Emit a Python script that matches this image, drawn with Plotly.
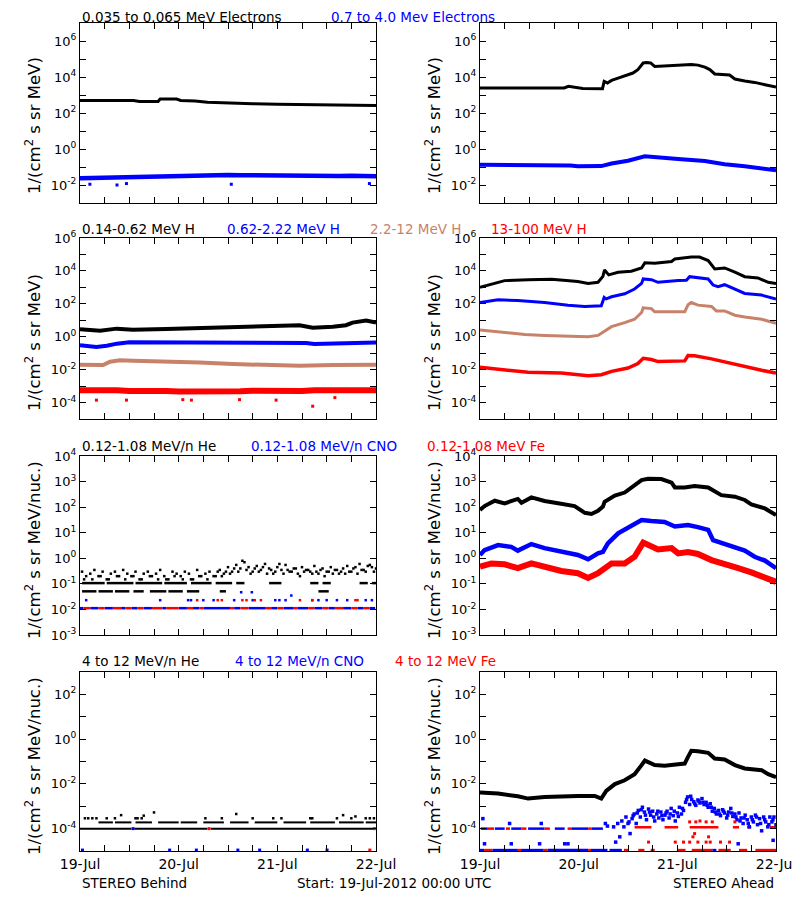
import plotly.graph_objects as go

# ---------------- colours ----------------
BLACK = "#000000"
BLUE = "#0000FF"
BROWN = "rgb(200,130,105)"
RED = "#FF0000"
FONT = "DejaVu Sans"

# ---------------- x axis (hours since 19-Jul-2012 00:00 UTC) ----------------
X_TICKS = [0, 6, 12, 18, 24, 30, 36, 42, 48, 54, 60, 66, 72]
X_TICK_TEXT = ["19-Jul", "", "", "", "20-Jul", "", "", "", "21-Jul", "", "", "", "22-Jul"]

# ---------------- y axis ticks per row ----------------
Y1_TICKS = [1e-3, 1e-2, 1e-1, 1e0, 1e1, 1e2, 1e3, 1e4, 1e5, 1e6, 1e7]
Y1_TEXT = ["", "10<sup>-2</sup>", "", "10<sup>0</sup>", "", "10<sup>2</sup>", "", "10<sup>4</sup>", "", "10<sup>6</sup>", ""]
Y2_TICKS = [1e-5, 1e-4, 1e-3, 1e-2, 1e-1, 1e0, 1e1, 1e2, 1e3, 1e4, 1e5, 1e6]
Y2_TEXT = ["", "10<sup>-4</sup>", "", "10<sup>-2</sup>", "", "10<sup>0</sup>", "", "10<sup>2</sup>", "", "10<sup>4</sup>", "", "10<sup>6</sup>"]
Y3_TICKS = [1e-3, 1e-2, 1e-1, 1e0, 1e1, 1e2, 1e3, 1e4]
Y3_TEXT = ["10<sup>-3</sup>", "10<sup>-2</sup>", "10<sup>-1</sup>", "10<sup>0</sup>", "10<sup>1</sup>", "10<sup>2</sup>", "10<sup>3</sup>", "10<sup>4</sup>"]
Y4_TICKS = [1e-5, 1e-4, 1e-3, 1e-2, 1e-1, 1e0, 1e1, 1e2, 1e3]
Y4_TEXT = ["", "10<sup>-4</sup>", "", "10<sup>-2</sup>", "", "10<sup>0</sup>", "", "10<sup>2</sup>", ""]

# ================= ROW 1 : electrons =================
# Behind 0.035-0.065 MeV
e_lo_b_t = [0, 13, 14.5, 19, 19.5, 23.5, 24.5, 28, 31, 36, 42, 48, 54, 60, 66, 72]
e_lo_b_v = [490, 490, 440, 440, 600, 600, 500, 470, 400, 360, 330, 310, 290, 275, 265, 257]
# Behind 0.7-4.0 MeV
e_hi_b_t = [0, 3, 6, 9, 12, 15, 18, 21, 24, 27, 30, 33, 36, 39, 42, 45, 48, 51, 54, 57, 60, 63, 66, 69, 72]
e_hi_b_v = [0.024, 0.025, 0.026, 0.025, 0.027, 0.028, 0.030, 0.031, 0.033, 0.034, 0.035, 0.034, 0.036,
            0.035, 0.034, 0.034, 0.033, 0.033, 0.034, 0.034, 0.033, 0.032, 0.033, 0.032, 0.031]
e_hi_b_out_t = [2.4, 9, 11.3, 36.8, 70.4]
e_hi_b_out_v = [0.011, 0.010, 0.012, 0.011, 0.012]
# Ahead 0.035-0.065 MeV
e_lo_a_t = [0, 10, 10.5, 20.5, 21.5, 24, 25, 29.8, 30.2, 31, 32, 33.6, 35.2, 37.2, 38.4, 39.7, 40.5, 41.5,
            42.5, 46.6, 48.5, 51.4, 53, 54.7, 55.9, 57.1, 60.7, 62, 64.4, 66.8, 69.3, 72]
e_lo_a_v = [2450, 2450, 2340, 2450, 3020, 2630, 2290, 2240, 5750, 4680, 6460, 8710, 11700, 16600, 25700,
            60300, 64600, 60300, 38900, 43700, 50100, 50100, 45700, 35500, 25700, 14800, 12900, 7760,
            6030, 5010, 3720, 2750]
# Ahead 0.7-4.0 MeV
e_hi_a_t = [0, 8, 15.7, 22, 23.8, 27, 29.5, 32, 36, 40.1, 43.3, 48.2, 54.7, 59.5, 64.4, 69.3, 72]
e_hi_a_v = [0.135, 0.132, 0.123, 0.120, 0.110, 0.105, 0.112, 0.155, 0.224, 0.389, 0.331, 0.275, 0.214,
            0.141, 0.110, 0.078, 0.065]

# ================= ROW 2 : protons =================
h1_b_t = [0, 4.9, 8.9, 12.9, 21, 29.1, 37.2, 45.3, 53.4, 55, 56.6, 61.5, 64.7, 66.3, 69.6, 72]
h1_b_v = [2.8, 2.3, 3.1, 2.7, 2.95, 3.4, 3.7, 4.6, 5.0, 4.2, 3.5, 4.0, 5.0, 7.2, 9.5, 7.2]
h2_b_t = [0, 4, 6.5, 9, 12, 20, 30, 40, 50, 55, 57, 62, 67, 72]
h2_b_v = [0.30, 0.24, 0.28, 0.38, 0.46, 0.46, 0.47, 0.47, 0.46, 0.42, 0.36, 0.38, 0.42, 0.44]
h3_b_t = [0, 5.6, 7.3, 9.7, 12.9, 21, 29.1, 37.2, 45.3, 53.4, 61.5, 72]
h3_b_v = [0.020, 0.019, 0.030, 0.037, 0.035, 0.032, 0.027, 0.022, 0.019, 0.017, 0.019, 0.020]
h4_b_t = [0, 3, 6, 9, 12, 15, 18, 21, 24, 27, 30, 33, 36, 39, 42, 45, 48, 51, 54, 57, 60, 63, 66, 69, 72]
h4_b_v = [5.6e-4, 5.8e-4, 5.2e-4, 5.5e-4, 5.0e-4, 5.3e-4, 4.8e-4, 5.0e-4, 4.7e-4, 4.6e-4, 4.5e-4, 4.8e-4,
          5.0e-4, 4.9e-4, 5.2e-4, 5.0e-4, 5.3e-4, 5.4e-4, 5.1e-4, 5.5e-4, 5.6e-4, 5.3e-4, 5.6e-4, 5.8e-4, 5.5e-4]
h4_b_out_t = [4, 11.3, 25, 27.1, 38.8, 47.7, 56.6, 62]
h4_b_out_v = [1.4e-4, 1.4e-4, 1.5e-4, 1.4e-4, 1.5e-4, 1.4e-4, 6e-5, 2e-4]

h1_a_t = [0, 2.8, 6, 11.7, 17.4, 23.8, 26.3, 28.7, 29.9, 30.3, 31.3, 33.6, 36.8, 39.3, 40.1, 42.5, 46.6,
          47.4, 51.4, 53.4, 55.5, 57.1, 59.5, 62, 64.4, 67.6, 70.1, 72]
h1_a_v = [1000, 1580, 2570, 2950, 3090, 2240, 1740, 2040, 4680, 11500, 5750, 8320, 9550, 15100, 30900,
          29500, 37200, 53700, 69200, 69200, 42700, 13200, 15100, 8320, 4470, 3720, 2040, 1740]
h2_a_t = [0, 4.4, 9.2, 15.7, 21.4, 25.5, 29.5, 30.2, 30.7, 32, 35.2, 37.6, 39.3, 39.7, 41.7, 43.3, 48.2,
          50.2, 51, 53, 55.5, 56.7, 57.9, 59.5, 62, 64.4, 68.5, 72]
h2_a_v = [120, 174, 158, 120, 83, 69, 76, 245, 200, 269, 407, 794, 1740, 3240, 2950, 2040, 2570, 2690,
          4470, 3720, 3240, 1380, 1100, 1450, 794, 427, 339, 195]
h3_a_t = [0, 4.4, 10.9, 15.7, 26.3, 28.7, 30.3, 32, 35.2, 37.6, 39.3, 39.7, 41.7, 42.5, 49.8, 50.6, 51.4,
          53, 56.3, 57.5, 59.5, 62, 64.4, 68.5, 72]
h3_a_v = [2.6, 2.0, 1.38, 1.2, 1.0, 1.2, 2.2, 4.1, 7.2, 11.5, 29.5, 57.5, 51.3, 32.4, 32.4, 87.1, 120,
          83.2, 69.2, 37.2, 37.2, 20.4, 15.8, 11.5, 6.6]
h4_a_t = [0, 6, 11.7, 19.8, 26.3, 29.5, 32, 36, 38.4, 39.7, 41.7, 43.3, 49.8, 50.6, 52.2, 56.3, 60.3,
          64.4, 68.5, 72]
h4_a_v = [0.0138, 0.010, 0.0069, 0.0063, 0.0043, 0.0049, 0.0079, 0.0126, 0.0234, 0.049, 0.041, 0.031,
          0.034, 0.072, 0.069, 0.045, 0.026, 0.0145, 0.0091, 0.0063]

# ================= ROW 3 : 0.12-1.08 MeV/n ions =================
# Behind He: quantised count levels (value, [(start, end) hours])
he_lo_b_levels = [
    (0.051, [(0.5, 4), (4.5, 8), (8.5, 12), (13, 15.5), (17, 21), (21.5, 25), (26, 29), (34, 35.5), (58, 60.5)]),
    (0.107, [(0.5, 6), (6.5, 13), (13.5, 20), (20.5, 26), (27, 32), (33, 37), (38, 40), (46, 49), (56, 58),
             (59, 61), (68, 70), (71, 72)]),
]
he_lo_b_t1 = [0.5, 1.5, 2.5, 3.5, 4.5, 5.5, 6.5, 7.5, 8.5, 9.5, 10.5, 11.5, 12.5, 13.5, 14.5, 15.5, 16.5,
              17.5, 18.5, 19.5, 20.5, 21.5, 22.5, 23.5, 24.5, 25.5, 26.5, 27.5, 28.5, 29.5, 30.5, 31.5, 32.5, 33.5]
he_lo_b_v1 = [0.30, 0.20, 0.25, 0.35, 0.20, 0.30, 0.15, 0.25, 0.30, 0.20, 0.35, 0.25, 0.20, 0.30, 0.15, 0.25,
              0.30, 0.20, 0.25, 0.35, 0.20, 0.15, 0.30, 0.25, 0.20, 0.30, 0.25, 0.15, 0.35, 0.20, 0.25, 0.30, 0.20, 0.30]
he_lo_b_t2 = [1, 3, 5, 7, 9, 11, 13, 15, 17, 19, 21, 23, 25, 27, 29, 31, 33]
he_lo_b_v2 = [0.15, 0.15, 0.20, 0.15, 0.20, 0.15, 0.20, 0.15, 0.20, 0.15, 0.15, 0.20, 0.15, 0.15, 0.20, 0.15, 0.20]
he_lo_b_t3 = [34, 35, 36, 37, 38, 39, 40, 41, 42, 43, 44, 45, 46, 47, 48, 49, 50, 51, 52, 53, 54, 55, 56, 57,
              58, 59, 60, 61, 62, 63, 64, 65, 66, 67, 68, 69, 70, 71, 72]
he_lo_b_v3 = [0.35, 0.25, 0.45, 0.30, 0.55, 0.40, 0.70, 0.45, 0.30, 0.50, 0.35, 0.60, 0.40, 0.25, 0.45, 0.35,
              0.55, 0.30, 0.40, 0.25, 0.45, 0.35, 0.30, 0.50, 0.25, 0.40, 0.30, 0.45, 0.35, 0.25, 0.40, 0.50,
              0.30, 0.45, 0.60, 0.35, 0.50, 0.45, 0.40]
he_lo_b_t4 = [34.5, 35.5, 36.5, 37.5, 38.5, 39.5, 40.5, 41.5, 42.5, 43.5, 44.5, 45.5, 46.5, 47.5, 48.5, 49.5,
              50.5, 51.5, 52.5, 53.5, 54.5, 55.5, 56.5, 57.5, 58.5, 59.5, 60.5, 61.5, 62.5, 63.5, 64.5, 65.5,
              66.5, 67.5, 68.5, 69.5, 70.5, 71.5]
he_lo_b_v4 = [0.20, 0.30, 0.25, 0.40, 0.30, 0.80, 0.35, 0.25, 0.40, 0.30, 0.45, 0.25, 0.35, 0.30, 0.60, 0.25,
              0.35, 0.30, 0.40, 0.20, 0.30, 0.35, 0.25, 0.30, 0.35, 0.20, 0.30, 0.25, 0.35, 0.30, 0.25, 0.30,
              0.40, 0.25, 0.35, 0.30, 0.55, 0.30]
# Behind CNO / Fe: one-count level segments and sparse two-count points
cno_lo_b_levels = [(0.0112, [(0, 0.8), (2.5, 4.5), (6, 8), (10, 11), (12.5, 14), (15.5, 17.5), (20, 21), (24, 26),
                             (27.5, 29), (30, 36.5), (37.5, 39), (41, 45), (46.5, 48), (49.5, 52), (53, 55.5),
                             (57, 59), (60.5, 62), (64, 66), (67.5, 69), (70.5, 71.8)])]
fe_lo_b_levels = [(0.0112, [(0.8, 2.5), (4.5, 6), (8, 10), (11, 12.5), (14, 15.5), (17.5, 20), (21, 24), (26, 27.5),
                            (29, 30), (36.5, 37.5), (39, 41), (45, 46.5), (48, 49.5), (52, 53), (55.5, 57),
                            (59, 60.5), (62, 64), (66, 67.5), (69, 70.5)])]
cno_lo_b_pt_t = [1.5, 19.5, 26.3, 27, 30, 32.5, 37.5, 39.2, 41.8, 42, 47.5, 48.5, 50, 51.4, 56.5, 58, 60, 62.5, 65, 69.5, 71]
cno_lo_b_pt_v = [0.023, 0.023, 0.023, 0.023, 0.023, 0.023, 0.023, 0.047, 0.047, 0.023, 0.023, 0.023, 0.023,
                 0.035, 0.023, 0.023, 0.023, 0.023, 0.023, 0.023, 0.023]
fe_lo_b_pt_t = [28.5, 33.5, 34.5, 39.5, 40.5, 42.5, 44, 53.5, 56.5, 67, 67.5]
fe_lo_b_pt_v = [0.023, 0.023, 0.023, 0.023, 0.023, 0.023, 0.023, 0.023, 0.023, 0.023, 0.023]

# Ahead
he_lo_a_t = [0, 1.1, 3.6, 6, 9.2, 10.1, 12.5, 15.7, 19, 23, 25.5, 27.1, 28.7, 29.9, 30.3, 32.8, 35.2, 37.6,
             39.3, 40.9, 44.1, 46.6, 47.4, 49.8, 52.2, 55.5, 57.1, 58.7, 62, 64.4, 66, 69.3, 72]
he_lo_a_v = [78, 110, 178, 141, 209, 148, 240, 174, 141, 110, 60, 54, 72, 105, 162, 282, 372, 676, 1150,
             1290, 1260, 912, 589, 589, 676, 589, 398, 295, 257, 191, 129, 89, 49]
cno_lo_a_t = [0, 1.1, 4.4, 7.6, 9.2, 12.5, 15.7, 19.8, 23.8, 26.3, 28.7, 29.9, 31.1, 33.6, 36.8, 39.3, 41.7,
              44.9, 47.4, 50.6, 53, 55.5, 56.7, 59.5, 62.8, 64.4, 66.8, 69.3, 72]
cno_lo_a_v = [1.35, 2.1, 3.3, 2.8, 2.0, 3.6, 2.5, 1.8, 1.35, 0.91, 1.55, 1.78, 3.8, 9.5, 18.2, 31.6, 28.8,
              26.3, 17.4, 20.0, 16.6, 12.9, 5.1, 3.6, 2.5, 2.0, 1.15, 0.81, 0.41]
fe_lo_a_t = [0, 2.8, 6, 9.2, 12.5, 15.7, 19.8, 23.8, 26.3, 28.7, 32, 35.2, 37.6, 39.7, 41.7, 43.3, 46.6,
             48.2, 50.6, 53, 56.3, 59.5, 62.8, 66, 69.3, 72]
fe_lo_a_v = [0.47, 0.63, 0.58, 0.41, 0.63, 0.47, 0.32, 0.26, 0.17, 0.26, 0.63, 0.63, 1.15, 4.1, 2.8, 2.2,
             2.5, 1.55, 1.74, 1.48, 0.85, 0.63, 0.41, 0.28, 0.17, 0.12]

# ================= ROW 4 : 4-12 MeV/n ions =================
# Behind
he_hi_b_levels = [
    (1.0e-4, [(0, 12.5), (13.2, 31), (31.8, 71.4)]),
    (1.9e-4, [(4.5, 8), (8.5, 12.5), (13.5, 17.5), (19, 24), (24.5, 28.5), (30, 35), (36.5, 41), (42.5, 48),
              (49.5, 55), (56, 62), (63, 69), (69.5, 72)]),
]
he_hi_b_pt_t = [1.2, 2, 3, 4, 6.5, 8.5, 10, 13.5, 14, 15, 15.5, 18, 30.5, 34.5, 38, 42, 47, 49, 56, 56.5,
                62.5, 64, 66, 67, 69.5, 70.5, 71.5]
he_hi_b_pt_v = [2.9e-4, 2.9e-4, 2.9e-4, 2.9e-4, 2.9e-4, 2.9e-4, 4e-4, 2.9e-4, 2.9e-4, 2.9e-4, 3.8e-4,
                5.3e-4, 2.9e-4, 2.9e-4, 4.5e-4, 2.9e-4, 2.9e-4, 2.9e-4, 2.9e-4, 2.9e-4, 2.9e-4, 4e-4,
                2.9e-4, 3.5e-4, 2.9e-4, 2.9e-4, 2.9e-4]
cno_hi_b_pt_t = [0.6, 12.9, 21.8, 28.3, 38.4, 43.7, 55.3, 60.1]
cno_hi_b_pt_v = [1.1e-5, 1.0e-4, 1.1e-5, 1.1e-5, 1.1e-5, 1.1e-5, 1.1e-5, 1.1e-5]
fe_hi_b_pt_t = [31.4, 70.5, 71.6]
fe_hi_b_pt_v = [1.0e-4, 1.1e-5, 1.0e-4]

# Ahead
he_hi_a_t = [0, 4.4, 9.2, 11.7, 15.7, 19.8, 23.8, 27.9, 29.5, 30.7, 32.8, 35.2, 37.6, 39.3, 40.1, 42.5,
             44.9, 48.2, 49.8, 50.6, 51.4, 53, 55.5, 57.1, 59.5, 62, 64.4, 68.5, 70.1, 72]
he_hi_a_v = [4.1e-3, 3.7e-3, 2.8e-3, 2.2e-3, 2.6e-3, 2.8e-3, 2.9e-3, 2.9e-3, 2.2e-3, 4.9e-3, 9.8e-3, 0.0145,
             0.027, 0.069, 0.11, 0.069, 0.065, 0.076, 0.081, 0.162, 0.30, 0.29, 0.245, 0.135, 0.123, 0.069,
             0.049, 0.041, 0.027, 0.020]
cno_hi_a_levels = [
    (1.0e-4, [(0.2, 1.9), (3.6, 6), (7.6, 10.1), (11.7, 15.7), (18.2, 20.6), (22.2, 26.3), (27.1, 29.9)]),
    (1.1e-5, [(0, 1), (3, 9.2), (10, 15.5), (16.5, 26.3), (27, 31), (31.5, 34.5), (56.5, 57.5)]),
]
fe_hi_a_levels = [
    (1.0e-4, [(1.9, 3.4), (6.3, 7.3), (10.1, 11.3), (15.7, 17), (21.3, 22.2), (26.3, 27.1)]),
    (1.15e-4, [(37.6, 41.7), (44.9, 48.2), (51, 58), (61.5, 63), (65, 66), (70.5, 72)]),
    (1.1e-5, [(1, 3), (9.2, 10), (15.5, 16.5), (26.3, 27), (35, 36), (38.5, 40), (41.5, 42.5), (48, 50),
              (51.5, 56.5), (58, 61), (63, 65), (67, 72)]),
]
cno_hi_a_t1 = [0.7, 1.1, 7.2, 7.6, 14.5, 14.9, 20.6, 21.4, 30.5, 31, 62.8, 71.3]
cno_hi_a_v1 = [2.8e-4, 2.1e-5, 1.7e-4, 2.1e-5, 2.1e-5, 1.7e-4, 2.1e-5, 2.1e-5, 1.7e-4, 1.3e-4, 2.1e-5, 3e-5]
cno_hi_a_t2 = [32.5, 33, 33.5, 34, 34.5, 35, 35.5, 36, 36.5, 37, 37.5, 38, 38.5, 39, 39.5, 40, 40.5, 41, 41.5,
               42, 42.5, 43, 43.5, 44, 44.5, 45, 45.5, 46, 46.5, 47, 47.5, 48, 48.5, 49, 49.5, 50, 50.5, 51,
               51.5, 52, 52.5, 53, 53.5, 54, 54.5, 55, 55.5, 56, 56.5, 57, 57.5, 58, 58.5, 59, 59.5, 60, 60.5,
               61, 61.5, 62, 62.5, 63, 63.5, 64, 64.5, 65, 65.5, 66, 66.5, 67, 67.5, 68, 68.5, 69, 69.5, 70,
               70.5, 71, 71.5, 72]
cno_hi_a_v2 = [1.2e-4, 2.5e-5, 1.7e-4, 4.3e-5, 2.2e-4, 1.2e-4, 3.3e-4, 1.7e-4, 6e-5, 2.8e-4,
               4.5e-4, 1.7e-4, 6.5e-4, 3.3e-4, 9e-4, 5.5e-4, 2.5e-4, 7.5e-4, 4e-4, 6e-4,
               2.2e-4, 4.5e-4, 3e-4, 5.5e-4, 2.5e-4, 4e-4, 6e-4, 3e-4, 8e-4, 3.8e-4,
               2.2e-4, 5e-4, 9e-4, 4.5e-4, 6.5e-4, 1.5e-3, 2.6e-3, 1.2e-3, 2.0e-3, 1.6e-3,
               1.1e-3, 1.9e-3, 1.4e-3, 2.2e-3, 1.2e-3, 1.5e-3, 9e-4, 1.3e-3, 6e-4, 8e-4,
               4.5e-4, 6.5e-4, 3.8e-4, 7e-4, 5e-4, 3e-4, 5.5e-4, 8e-4, 3.5e-4, 4.5e-4,
               2.5e-4, 5e-4, 3e-4, 1.7e-4, 4e-4, 2.5e-4, 1.2e-4, 3.3e-4, 2e-4, 4e-4,
               1.5e-4, 2.8e-4, 8e-5, 3.3e-4, 2e-4, 1.2e-4, 3.3e-4, 2e-4, 3.3e-4, 1.5e-4]
cno_hi_a_t3 = [36.25, 37.25, 38.25, 39.25, 40.25, 41.25, 42.25, 43.25, 44.25, 45.25, 46.25, 47.25, 48.25,
               49.25, 50.25, 51.25, 52.25, 53.25, 54.25, 55.25, 56.25, 57.25, 58.25, 59.25, 60.25, 61.25,
               62.25, 63.25, 64.25, 65.25, 66.25, 67.25, 68.25, 69.25, 70.25, 71.25]
cno_hi_a_v3 = [2e-4, 3.8e-4, 5e-4, 7e-4, 4e-4, 5.5e-4, 3.3e-4, 6e-4, 3.8e-4, 5e-4,
               4.5e-4, 6e-4, 3.5e-4, 8e-4, 2e-3, 2.8e-3, 1.3e-3, 1.7e-3, 1.5e-3, 1.1e-3,
               9e-4, 5.5e-4, 4.5e-4, 6e-4, 4e-4, 5e-4, 3.3e-4, 2.2e-4, 3e-4, 1.7e-4,
               2.5e-4, 3.3e-4, 1.7e-4, 2.5e-4, 1.5e-4, 2.5e-4]
fe_hi_a_pt_t = [51, 52.5, 53.5, 55, 56.5, 62, 51.8, 52.2, 55.6, 41, 47.5, 49.5, 51, 53, 55, 56, 58.5, 60.7]
fe_hi_a_pt_v = [2e-4, 2e-4, 2.2e-4, 2e-4, 2e-4, 2e-4, 4.3e-5, 6e-5, 4.3e-5, 2.5e-5, 2.5e-5, 2.5e-5, 2.5e-5,
                2.5e-5, 2.5e-5, 2.5e-5, 2.5e-5, 2.5e-5]

# ---------------- panel titles (rows) ----------------
ROW_TITLES = [
    [("0.035 to 0.065 MeV Electrons", BLACK), ("0.7 to 4.0 Mev Electrons", BLUE)],
    [("0.14-0.62 MeV H", BLACK), ("0.62-2.22 MeV H", BLUE), ("2.2-12 MeV H", BROWN), ("13-100 MeV H", RED)],
    [("0.12-1.08 MeV/n He", BLACK), ("0.12-1.08 MeV/n CNO", BLUE), ("0.12-1.08 MeV Fe", RED)],
    [("4 to 12 MeV/n He", BLACK), ("4 to 12 MeV/n CNO", BLUE), ("4 to 12 MeV Fe", RED)],
]
Y_TITLES = ["1/(cm<sup>2</sup> s sr MeV)", "1/(cm<sup>2</sup> s sr MeV)",
            "1/(cm<sup>2</sup> s sr MeV/nuc.)", "1/(cm<sup>2</sup> s sr MeV/nuc.)"]

# ---------------- layout geometry (screen pixels) ----------------
W, H = 800, 900
OFF = 8  # the page body margin shifts the figure by this many pixels
COLS_PX = [(80, 376), (480, 776)]
ROWS_PX = [(23, 203), (238, 419), (456, 635), (672, 851)]
Y_RANGES = [(-3, 7), (-5, 6), (-3, 4), (-5, 3)]
Y_TICKS = [(Y1_TICKS, Y1_TEXT), (Y2_TICKS, Y2_TEXT), (Y3_TICKS, Y3_TEXT), (Y4_TICKS, Y4_TEXT)]
TITLE_Y = [16.5, 229, 446, 661]
TITLE_X = [[80, 329], [80, 225, 368, 489], [80, 249, 425], [80, 233, 393]]
YTITLE_Y = [126, 343, 550, 766]


def px_x(x):
    return (x - OFF) / W


def px_y(y):
    return 1 - (y - OFF) / H


fig = go.Figure()


def axn(k):
    return ("x" if k == 1 else f"x{k}"), ("y" if k == 1 else f"y{k}")


def add_line(k, t, v, color, width):
    xa, ya = axn(k)
    fig.add_trace(go.Scatter(x=t, y=v, mode="lines", line=dict(color=color, width=width),
                             xaxis=xa, yaxis=ya, hoverinfo="skip", cliponaxis=True))


def add_pts(k, t, v, color, size=3):
    xa, ya = axn(k)
    fig.add_trace(go.Scatter(x=t, y=v, mode="markers",
                             marker=dict(color=color, size=size, symbol="square", line=dict(width=0)),
                             xaxis=xa, yaxis=ya, hoverinfo="skip", cliponaxis=True))


def add_levels(k, levels, color, width=2.5):
    xs, ys = [], []
    for val, segs in levels:
        for a, b in segs:
            xs += [a, b, None]
            ys += [val, val, None]
    add_line(k, xs, ys, color, width)


# Row 1
add_line(1, e_lo_b_t, e_lo_b_v, BLACK, 3)
add_line(1, e_hi_b_t, e_hi_b_v, BLUE, 4.5)
add_pts(1, e_hi_b_out_t, e_hi_b_out_v, BLUE)
add_line(2, e_lo_a_t, e_lo_a_v, BLACK, 3)
add_line(2, e_hi_a_t, e_hi_a_v, BLUE, 4)
# Row 2
add_line(3, h1_b_t, h1_b_v, BLACK, 4)
add_line(3, h2_b_t, h2_b_v, BLUE, 4)
add_line(3, h3_b_t, h3_b_v, BROWN, 4)
add_line(3, h4_b_t, h4_b_v, RED, 6)
add_pts(3, h4_b_out_t, h4_b_out_v, RED)
add_line(4, h1_a_t, h1_a_v, BLACK, 3)
add_line(4, h2_a_t, h2_a_v, BLUE, 3)
add_line(4, h3_a_t, h3_a_v, BROWN, 3)
add_line(4, h4_a_t, h4_a_v, RED, 3.5)
# Row 3
add_levels(5, he_lo_b_levels, BLACK)
add_pts(5, he_lo_b_t1 + he_lo_b_t2 + he_lo_b_t3 + he_lo_b_t4,
        he_lo_b_v1 + he_lo_b_v2 + he_lo_b_v3 + he_lo_b_v4, BLACK, 2.5)
add_levels(5, cno_lo_b_levels, BLUE)
add_levels(5, fe_lo_b_levels, RED)
add_pts(5, cno_lo_b_pt_t, cno_lo_b_pt_v, BLUE, 2.5)
add_pts(5, fe_lo_b_pt_t, fe_lo_b_pt_v, RED, 2.5)
add_line(6, he_lo_a_t, he_lo_a_v, BLACK, 4)
add_line(6, cno_lo_a_t, cno_lo_a_v, BLUE, 4.5)
add_line(6, fe_lo_a_t, fe_lo_a_v, RED, 6)
# Row 4
add_levels(7, he_hi_b_levels, BLACK, 2)
add_pts(7, he_hi_b_pt_t, he_hi_b_pt_v, BLACK, 2.5)
add_pts(7, cno_hi_b_pt_t, cno_hi_b_pt_v, BLUE, 3)
add_pts(7, fe_hi_b_pt_t, fe_hi_b_pt_v, RED, 3)
add_line(8, he_hi_a_t, he_hi_a_v, BLACK, 4)
add_levels(8, cno_hi_a_levels, BLUE, 2.5)
add_levels(8, fe_hi_a_levels, RED, 2.5)
add_pts(8, cno_hi_a_t1 + cno_hi_a_t2 + cno_hi_a_t3, cno_hi_a_v1 + cno_hi_a_v2 + cno_hi_a_v3, BLUE, 3.5)
add_pts(8, fe_hi_a_pt_t, fe_hi_a_pt_v, RED, 3)

layout = dict(width=W, height=H, margin=dict(l=0, r=0, t=0, b=0, pad=0, autoexpand=False), autosize=False,
              paper_bgcolor="white", plot_bgcolor="white", showlegend=False,
              font=dict(family=FONT, size=13, color="black"))
annotations = []
for r in range(4):
    top, bot = ROWS_PX[r]
    for c in range(2):
        k = r * 2 + c + 1
        xl, xr = COLS_PX[c]
        xk = "xaxis" if k == 1 else f"xaxis{k}"
        yk = "yaxis" if k == 1 else f"yaxis{k}"
        layout[xk] = dict(domain=[px_x(xl), px_x(xr)], range=[0, 72], anchor=axn(k)[1], automargin=False,
                          tickmode="array", tickvals=X_TICKS, ticktext=X_TICK_TEXT,
                          showticklabels=(r == 3), ticks="inside", ticklen=6, tickcolor="black",
                          mirror="ticks", showline=True, linecolor="black", linewidth=1,
                          showgrid=False, zeroline=False, tickfont=dict(size=14))
        tv, tt = Y_TICKS[r]
        layout[yk] = dict(domain=[px_y(bot), px_y(top)], type="log", range=list(Y_RANGES[r]),
                          anchor=axn(k)[0], automargin=False, tickmode="array", tickvals=tv, ticktext=tt,
                          ticks="inside", ticklen=6, tickcolor="black", mirror="ticks",
                          showline=True, linecolor="black", linewidth=1,
                          showgrid=False, zeroline=False, tickfont=dict(size=13))
        annotations.append(dict(text=Y_TITLES[r], x=px_x(xl - 47), y=px_y(YTITLE_Y[r]),
                                xref="paper", yref="paper", showarrow=False, textangle=-90,
                                xanchor="center", yanchor="middle", font=dict(size=16.5)))
    for (txt, col), px in zip(ROW_TITLES[r], TITLE_X[r]):
        annotations.append(dict(text=txt, x=px_x(px), y=px_y(TITLE_Y[r]), xref="paper", yref="paper",
                                showarrow=False, xanchor="left", yanchor="middle",
                                font=dict(size=13.5, color=col)))

annotations.append(dict(text="STEREO Behind", x=px_x(80), y=px_y(883), xref="paper", yref="paper",
                        showarrow=False, xanchor="left", yanchor="middle", font=dict(size=13.5)))
annotations.append(dict(text="Start: 19-Jul-2012 00:00 UTC", x=px_x(295), y=px_y(883), xref="paper",
                        yref="paper", showarrow=False, xanchor="left", yanchor="middle", font=dict(size=13.5)))
annotations.append(dict(text="STEREO Ahead", x=px_x(776), y=px_y(883), xref="paper", yref="paper",
                        showarrow=False, xanchor="right", yanchor="middle", font=dict(size=13.5)))
layout["annotations"] = annotations
fig.update_layout(**layout)

fig.write_html("out.html")
